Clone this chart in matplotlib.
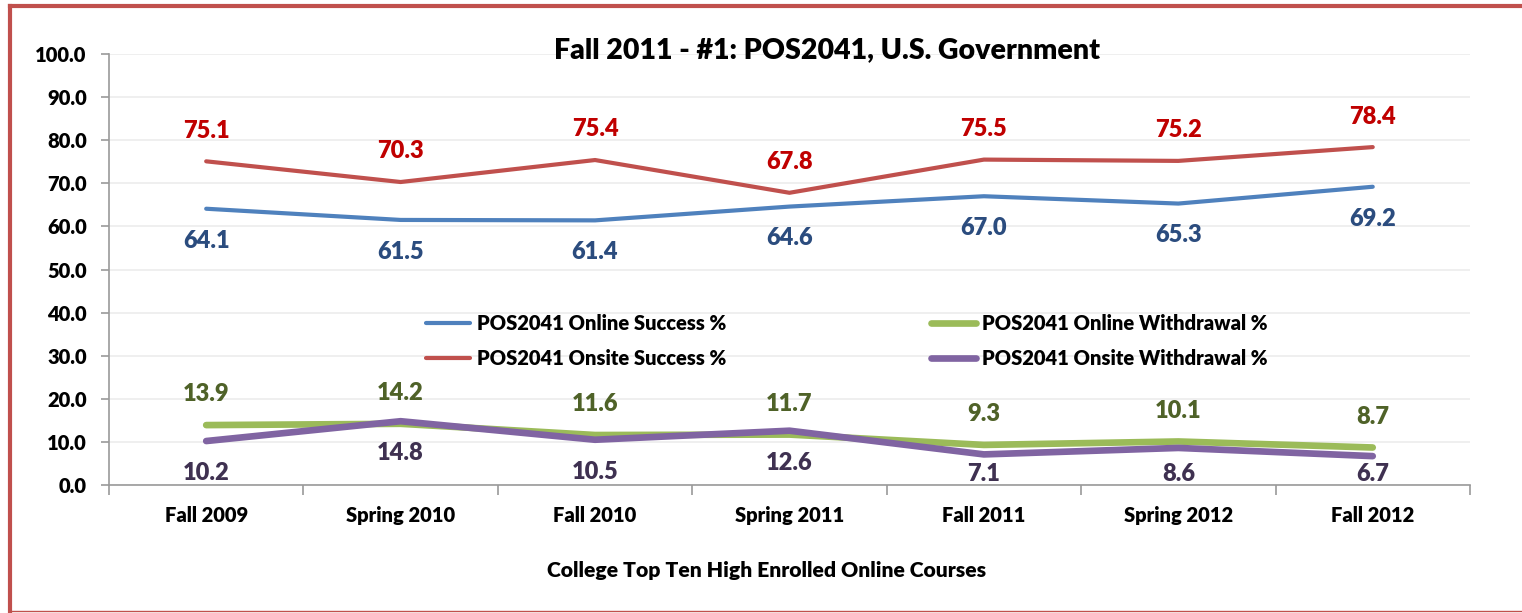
"""
Fall 2011 - #1: POS2041 success / withdrawal rates, online vs onsite.
"""

import matplotlib.pyplot as plt
from matplotlib.lines import Line2D

plt.rcParams["font.family"] = ["Lato", "DejaVu Sans"]
WEIGHT = "heavy"
plt.rcParams["font.weight"] = WEIGHT

TERMS = ["Fall 2009", "Spring 2010", "Fall 2010", "Spring 2011",
         "Fall 2011", "Spring 2012", "Fall 2012"]

online_success    = [64.1, 61.5, 61.4, 64.6, 67.0, 65.3, 69.2]
onsite_success    = [75.1, 70.3, 75.4, 67.8, 75.5, 75.2, 78.4]
online_withdrawal = [13.9, 14.2, 11.6, 11.7, 9.3, 10.1, 8.7]
onsite_withdrawal = [10.2, 14.8, 10.5, 12.6, 7.1, 8.6, 6.7]

# (values, label, line colour, label colour, line width, label above?)
SERIES = [
    (online_success,    "POS2041 Online Success %",    "#4F81BD", "#2B4C7E", 3.0, False),
    (onsite_success,    "POS2041 Onsite Success %",    "#C0504D", "#C00000", 3.0, True),
    (online_withdrawal, "POS2041 Online Withdrawal %", "#9BBB59", "#4F6228", 4.8, True),
    (onsite_withdrawal, "POS2041 Onsite Withdrawal %", "#8064A2", "#3F3151", 4.8, False),
]

LABEL_UP   = 7.1   # data units above the point
LABEL_DOWN = 7.4   # data units below the point
LABEL_MIN  = 2.6   # excel keeps labels inside the plot area


def main():
    fig = plt.figure(figsize=(15.22, 6.13), dpi=100)
    ax = fig.add_axes([0.0716, 0.2088, 0.8942, 0.7031])

    x = range(len(TERMS))
    for vals, label, color, lcolor, lw, above in SERIES:
        ax.plot(x, vals, color=color, linewidth=lw, label=label,
                solid_capstyle="round", zorder=3)
        for xi, v in zip(x, vals):
            ly = v + LABEL_UP if above else max(v - LABEL_DOWN, LABEL_MIN)
            ax.text(xi, ly, f"{v:.1f}", ha="center", va="center",
                    fontsize=17, fontweight=WEIGHT, color=lcolor)

    ax.set_xlim(-0.5, len(TERMS) - 0.5)
    ax.set_ylim(0, 100)
    ax.set_yticks(range(0, 101, 10))
    ax.set_yticklabels([f"{v:.1f}" for v in range(0, 101, 10)])
    ax.set_xticks(list(x))
    ax.set_xticklabels(TERMS)
    ax.set_xticks([i - 0.5 for i in range(len(TERMS) + 1)], minor=True)
    ax.tick_params(axis="x", which="major", length=0, pad=15, labelsize=14.5)
    ax.tick_params(axis="x", which="minor", length=7, color="#9a9a9a", width=1.2)
    ax.tick_params(axis="y", length=6, color="#9a9a9a", width=1.2,
                   labelsize=14.5, pad=10)
    for lab in ax.get_xticklabels() + ax.get_yticklabels():
        lab.set_fontweight(WEIGHT)

    ax.grid(axis="y", color="#ececec", linewidth=1.2)
    ax.set_axisbelow(True)
    for side in ("top", "right"):
        ax.spines[side].set_visible(False)
    for side in ("left", "bottom"):
        ax.spines[side].set_color("#9a9a9a")
        ax.spines[side].set_linewidth(1.2)

    ax.set_xlabel("College Top Ten High Enrolled Online Courses",
                  fontsize=15.2, fontweight=WEIGHT, labelpad=26)
    ax.xaxis.label.set_x(0.4835)

    fig.text(827 / 1522, 1 - 50 / 613, "Fall 2011 - #1: POS2041, U.S. Government",
             ha="center", va="center", fontsize=20.5, fontweight=WEIGHT)

    ax.legend(ncol=2, loc="center", bbox_to_anchor=(0.542, 0.334),
              frameon=False, handlelength=2.2,
              handletextpad=0.3, columnspacing=10.2, labelspacing=0.75,
              prop={"weight": WEIGHT, "size": 14.5})

    # red chart-area border (left, top, bottom)
    red = "#C0504D"
    fig.add_artist(Line2D([10 / 1522, 10 / 1522], [1 - 611 / 613, 1 - 6 / 613],
                          color=red, linewidth=3, transform=fig.transFigure))
    fig.add_artist(Line2D([10 / 1522, 1], [1 - 6 / 613, 1 - 6 / 613],
                          color=red, linewidth=3, transform=fig.transFigure))
    fig.add_artist(Line2D([10 / 1522, 1], [1 - 611 / 613, 1 - 611 / 613],
                          color=red, linewidth=1, transform=fig.transFigure))

    fig.savefig("out.png", dpi=100)


if __name__ == "__main__":
    main()
